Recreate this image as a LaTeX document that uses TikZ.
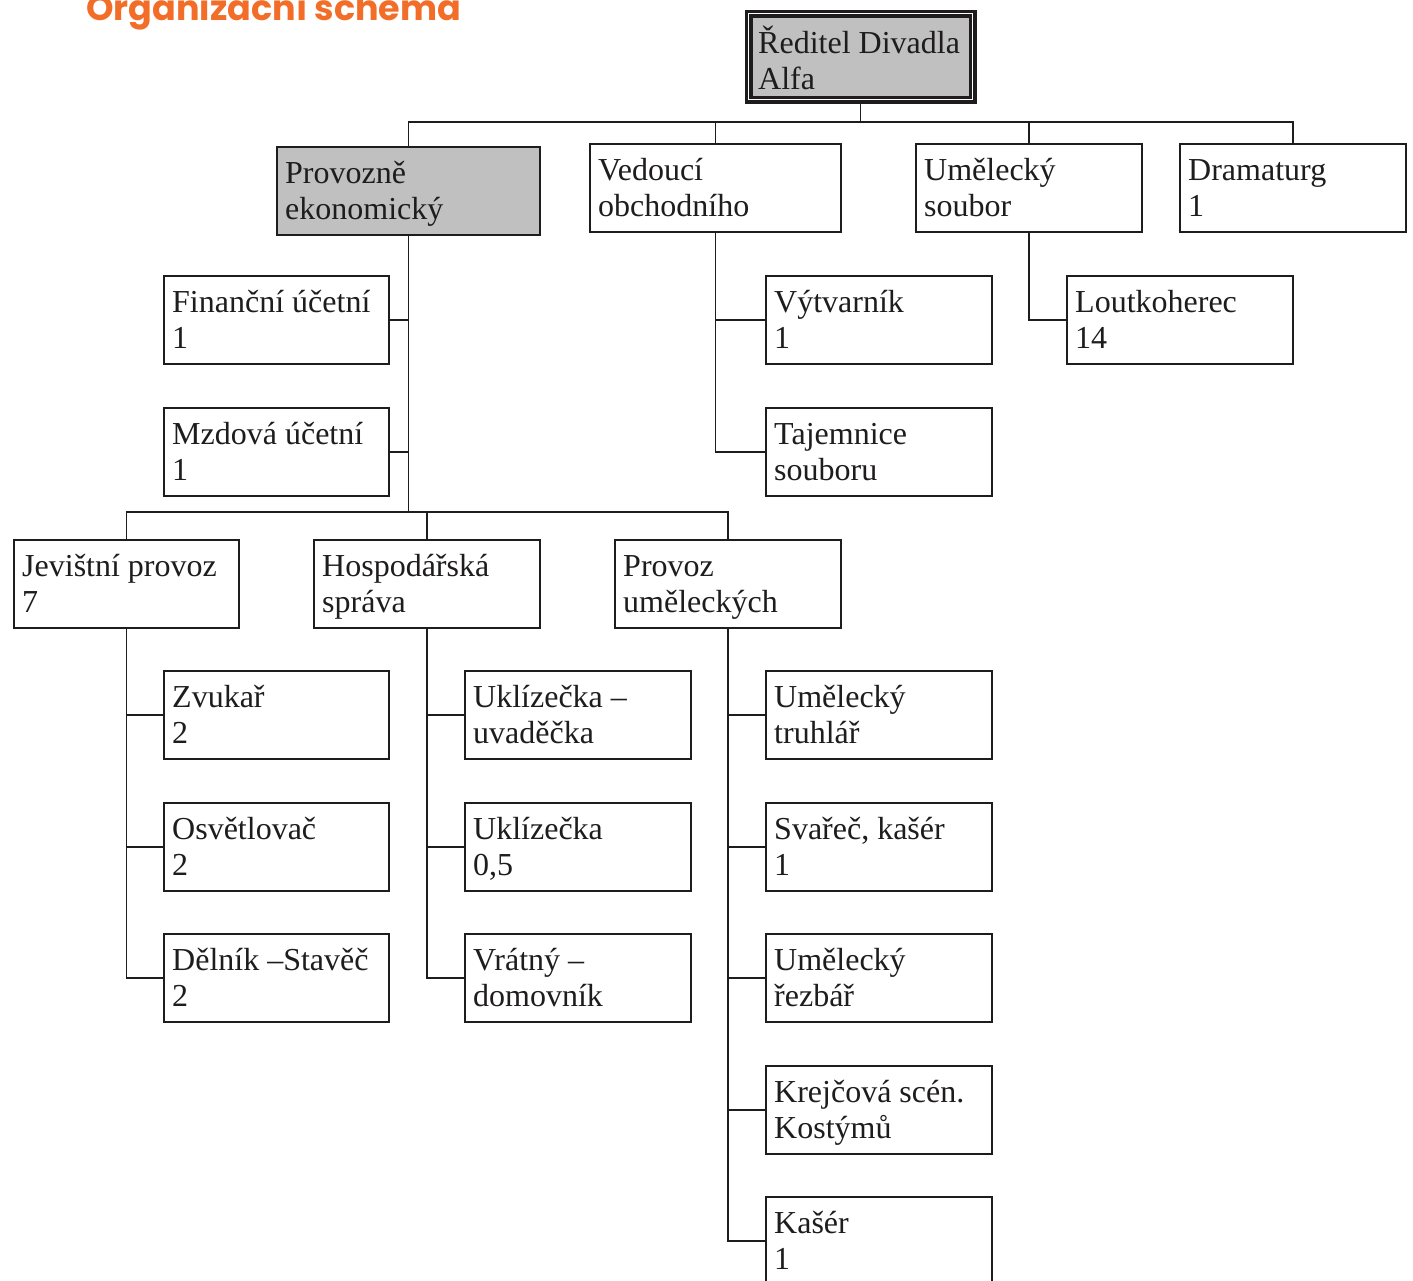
\documentclass[tikz,border=0pt]{standalone}
\usepackage{fontspec}
\setmainfont{Liberation Serif}
\newfontfamily\titlefont{Poppins}
\definecolor{titleorange}{RGB}{242,110,40}
\definecolor{boxgray}{RGB}{192,192,192}
\definecolor{ink}{RGB}{30,28,28}
\tikzset{
  orgbox/.style={draw=ink, line width=2pt, fill=white, anchor=north west, inner sep=0pt, minimum height=88pt},
  graybox/.style={orgbox, fill=boxgray},
  txt/.style={anchor=base west, inner sep=0pt, text=ink, font=\fontsize{32pt}{36pt}\selectfont},
  conn/.style={draw=ink, line width=1.5pt},
}
% #1 name, #2 style, #3 x, #4 y, #5 width, #6 first line, #7 second line
\newcommand{\orgnode}[7]{%
  \node[#2, minimum width=#5pt] (#1) at (#3,#4) {};
  \path (#1.north west) ++(9,37) node[txt] {#6} ++(0,36) node[txt] {#7};
}
\begin{document}
\begin{tikzpicture}[x=1pt,y=-1pt]
\useasboundingbox (0,0) rectangle (1413,1280);

% title (cut at top edge)
\node[anchor=base west, inner sep=0pt, text=titleorange, font=\titlefont\bfseries\fontsize{35pt}{40pt}\selectfont] (title) at (86,20) {Organizační schéma};

% director (double frame)
\node[draw=ink, line width=3.2pt, double=white, double distance=1.6pt, fill=boxgray, anchor=north west, inner sep=0pt, minimum width=224pt, minimum height=86pt] (dir) at (747,12) {};
\path (dir.north west) ++(11,41) node[txt] {Ředitel Divadla} ++(0,36) node[txt] {Alfa};

% level 1
\orgnode{prov}{graybox}{276}{146}{263}{Provozně}{ekonomický}
\orgnode{ved}{orgbox}{589}{143}{251}{Vedoucí}{obchodního}
\orgnode{uml}{orgbox}{915}{143}{226}{Umělecký}{soubor}
\orgnode{dram}{orgbox}{1179}{143}{226}{Dramaturg}{1}

% under Provozně ekonomický
\orgnode{fin}{orgbox}{163}{275}{225}{Finanční účetní}{1}
\orgnode{mzd}{orgbox}{163}{407}{225}{Mzdová účetní}{1}

% under Vedoucí obchodního
\orgnode{vyt}{orgbox}{765}{275}{226}{Výtvarník}{1}
\orgnode{taj}{orgbox}{765}{407}{226}{Tajemnice}{souboru}

% under Umělecký soubor
\orgnode{lout}{orgbox}{1066}{275}{226}{Loutkoherec}{14}

% level 2 under Provozně ekonomický
\orgnode{jev}{orgbox}{13}{539}{225}{Jevištní provoz}{7}
\orgnode{hosp}{orgbox}{313}{539}{226}{Hospodářská}{správa}
\orgnode{provu}{orgbox}{614}{539}{226}{Provoz}{uměleckých}

% under Jevištní provoz
\orgnode{zvuk}{orgbox}{163}{670}{225}{Zvukař}{2}
\orgnode{osv}{orgbox}{163}{802}{225}{Osvětlovač}{2}
\orgnode{del}{orgbox}{163}{933}{225}{Dělník –Stavěč}{2}

% under Hospodářská správa
\orgnode{ukl}{orgbox}{464}{670}{226}{Uklízečka –}{uvaděčka}
\orgnode{uklb}{orgbox}{464}{802}{226}{Uklízečka}{0,5}
\orgnode{vrat}{orgbox}{464}{933}{226}{Vrátný –}{domovník}

% under Provoz uměleckých
\orgnode{truh}{orgbox}{765}{670}{226}{Umělecký}{truhlář}
\orgnode{svar}{orgbox}{765}{802}{226}{Svařeč, kašér}{1}
\orgnode{rez}{orgbox}{765}{933}{226}{Umělecký}{řezbář}
\orgnode{krej}{orgbox}{765}{1065}{226}{Krejčová scén.}{Kostýmů}
\orgnode{kaser}{orgbox}{765}{1196}{226}{Kašér}{1}

% connectors
\coordinate (busA) at (dir.south |- 0,122);
\coordinate (busB) at (prov.south |- 0,512);
\draw[conn] (dir.south) -- (busA);
\draw[conn] (prov.north) |- (busA);
\draw[conn] (ved.north) |- (busA);
\draw[conn] (uml.north) |- (busA);
\draw[conn] (dram.north) |- (busA);

\draw[conn] (prov.south) -- (busB);
\draw[conn] (fin.east) -| (prov.south);
\draw[conn] (mzd.east) -| (prov.south);
\draw[conn] (jev.north) |- (busB);
\draw[conn] (hosp.north) |- (busB);
\draw[conn] (provu.north) |- (busB);

\draw[conn] (ved.south) |- (taj.west);
\draw[conn] (vyt.west) -| (ved.south);

\draw[conn] (uml.south) |- (lout.west);

\draw[conn] (jev.south) |- (del.west);
\draw[conn] (zvuk.west) -| (jev.south);
\draw[conn] (osv.west) -| (jev.south);

\draw[conn] (hosp.south) |- (vrat.west);
\draw[conn] (ukl.west) -| (hosp.south);
\draw[conn] (uklb.west) -| (hosp.south);

\draw[conn] (provu.south) |- (kaser.west);
\draw[conn] (truh.west) -| (provu.south);
\draw[conn] (svar.west) -| (provu.south);
\draw[conn] (rez.west) -| (provu.south);
\draw[conn] (krej.west) -| (provu.south);
\end{tikzpicture}
\end{document}
